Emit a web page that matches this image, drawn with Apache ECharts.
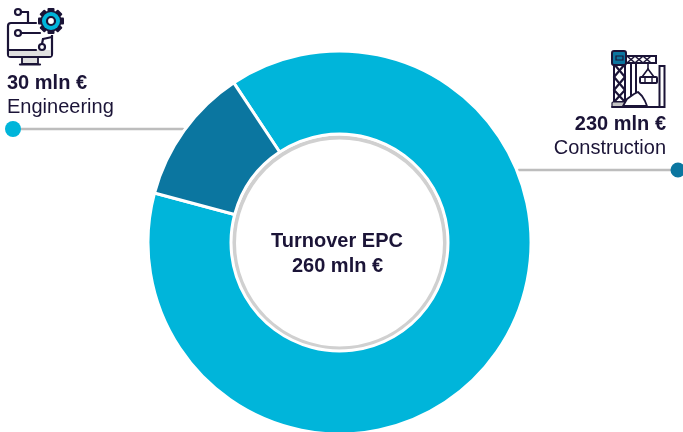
<!DOCTYPE html>
<html>
<head>
<meta charset="utf-8">
<script src="https://cdn.jsdelivr.net/npm/echarts@6/dist/echarts.min.js"></script>
<style>
  html, body { margin: 0; padding: 0; background: #fff; }
  #chart { width: 683px; height: 432px; overflow: hidden; }
</style>
</head>
<body>
<div id="chart"></div>
<script>
const categories = ['Construction', 'Engineering'];
const values = [230, 30];
const valueLabels = ['230 mln €', '30 mln €'];
const centerTitle = 'Turnover EPC';
const centerValue = '260 mln €';

const INK = '#1b1437';
const CYAN = '#00b5da';
const BLUE = '#0b76a0';
const GREY = '#bdbdbd';
const FONT = '"Liberation Sans", Arial, sans-serif';

const line = (x1, y1, x2, y2, color = INK, width = 2.2) => ({
  type: 'line',
  shape: { x1, y1, x2, y2 },
  style: { stroke: color, lineWidth: width, lineCap: 'round' },
});
const box = (x, y, width, height, fill, stroke = INK, lineWidth = 2.2, r = 0) => ({
  type: 'rect',
  shape: { x, y, width, height, r },
  style: { fill, stroke, lineWidth },
});
const dot = (cx, cy, r, fill, stroke = 'none', lineWidth = 0) => ({
  type: 'circle',
  shape: { cx, cy, r },
  style: { fill, stroke, lineWidth },
});
const label = (text, x, y, bold, align = 'left') => ({
  type: 'text',
  x,
  y,
  style: {
    text,
    fill: INK,
    font: `${bold ? 'bold ' : ''}20px ${FONT}`,
    align,
    verticalAlign: 'middle',
  },
});

// gear teeth for the engineering icon
const gearTeeth = [0, 45, 90, 135].map((deg) => ({
  type: 'rect',
  x: 51,
  y: 21,
  rotation: (deg * Math.PI) / 180,
  shape: { x: -13, y: -3.5, width: 26, height: 7, r: 1 },
  style: { fill: INK },
}));

const engineeringIcon = [
  box(8, 23, 44, 34, '#fff', INK, 2.2, 3),
  box(9, 50, 42, 6, '#e0e0e0', 'none', 0),
  line(8, 50, 36, 50),
  box(22, 57, 16, 7, '#e0e0e0', INK, 1.8),
  line(20, 64.5, 40, 64.5),
  box(36, 2, 24, 21, '#fff', 'none', 0),
  box(36, 23, 18, 12, '#fff', 'none', 0),
  dot(18, 12, 3, '#fff', INK, 2.2),
  line(21, 12, 28, 12),
  line(28, 12, 28, 23),
  line(28, 23, 36, 23),
  dot(18, 33, 3, '#fff', INK, 2.2),
  line(21, 33, 40, 33),
  dot(42, 47, 3, '#fff', INK, 2.2),
  line(42, 44, 43, 39),
  line(43, 39, 52, 37),
  ...gearTeeth,
  dot(51, 21, 10.5, INK),
  dot(51, 21, 9, CYAN),
  dot(51, 21, 4, '#fff', INK, 2.2),
];

const craneIcon = [
  box(659.5, 66, 5, 41, '#fff', INK, 2),
  line(631, 63, 631, 106, INK, 2),
  line(636, 63, 636, 106, INK, 2),
  box(614, 64, 11, 38, '#fff', INK, 2),
  line(614, 64, 625, 77),
  line(625, 64, 614, 77),
  line(614, 77, 625, 90),
  line(625, 77, 614, 90),
  line(614, 90, 625, 102),
  line(625, 90, 614, 102),
  box(612, 51, 14, 14, BLUE, INK, 2, 2),
  box(616, 56, 7, 4, BLUE, INK, 1.2),
  box(626, 56, 30, 7, '#fff', INK, 2),
  line(628, 57, 634, 62, INK, 1.6),
  line(634, 57, 628, 62, INK, 1.6),
  line(636, 57, 642, 62, INK, 1.6),
  line(642, 57, 636, 62, INK, 1.6),
  line(644, 57, 650, 62, INK, 1.6),
  line(650, 57, 644, 62, INK, 1.6),
  line(648, 63, 648, 69, INK, 1.6),
  line(648, 69, 642, 77, INK, 1.6),
  line(648, 69, 654, 77, INK, 1.6),
  box(640, 77, 17, 6, '#fff', INK, 2, 1),
  line(645, 77, 645, 83, INK, 1.4),
  line(652, 77, 652, 83, INK, 1.4),
  box(612, 102, 13, 5, '#c4c4c4', INK, 1.2, 1),
  {
    type: 'polygon',
    shape: { points: [[623, 106], [627, 99], [634, 94], [638, 92], [642, 96], [645, 101], [647, 106]] },
    style: { fill: '#fff', stroke: INK, lineWidth: 1.8, lineJoin: 'round' },
  },
  line(612, 107, 664, 107, INK, 2),
];

const chart = echarts.init(document.getElementById('chart'), null, { renderer: 'canvas' });
chart.setOption({
  animation: false,
  backgroundColor: '#fff',
  series: [
    {
      type: 'pie',
      center: [339.5, 242.5],
      radius: [108.5, 191.5],
      startAngle: 123.5,
      clockwise: true,
      silent: true,
      label: { show: false },
      labelLine: { show: false },
      itemStyle: { borderColor: '#fff', borderWidth: 3 },
      data: categories.map((name, i) => ({
        name,
        value: values[i],
        itemStyle: { color: [CYAN, BLUE][i] },
      })),
    },
  ],
  graphic: {
    elements: [
      // grey ring inside the hole
      dot(339.5, 243, 105.5, '#fff', '#d0d0d0', 4),
      label(centerTitle, 337, 241.5, true, 'center'),
      label(centerValue, 337.5, 266, true, 'center'),
      // engineering callout
      line(13, 129, 183, 129, GREY, 2.5),
      dot(13, 129, 8, CYAN),
      label(valueLabels[1], 7, 83, true),
      label(categories[1], 7, 107, false),
      // construction callout
      line(519, 170, 672, 170, GREY, 2.5),
      dot(678, 170, 7.5, BLUE),
      label(valueLabels[0], 666, 124, true, 'right'),
      label(categories[0], 666, 148, false, 'right'),
      ...engineeringIcon,
      ...craneIcon,
    ],
  },
});
</script>
</body>
</html>
